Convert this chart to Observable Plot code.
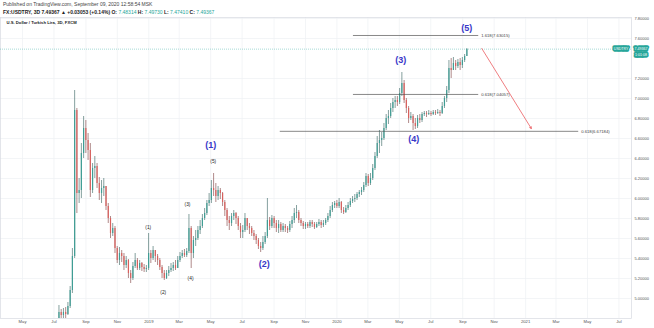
<!DOCTYPE html>
<html><head><meta charset="utf-8">
<script src="https://cdn.jsdelivr.net/npm/d3@7"></script>
<script src="https://cdn.jsdelivr.net/npm/@observablehq/plot@0.6"></script>
<style>
html,body{margin:0;padding:0;background:#fff;}
body{width:654px;height:328px;overflow:hidden;font-family:"Liberation Sans",Arial,sans-serif;}
#hdr{height:17px;position:relative;}
#l1{position:absolute;left:3px;top:1px;font-size:5px;color:#444;white-space:nowrap;}
#l2{position:absolute;left:3px;top:8.5px;font-size:5px;color:#222;white-space:nowrap;font-weight:bold;}
#l2 .v{color:#26a69a;font-weight:normal;}
#chart{position:relative;}
</style></head>
<body>
<div id="hdr">
<div id="l1">Published on TradingView.com, September 09, 2020 12:58:54 MSK</div>
<div id="l2">FX:USDTRY, 3D 7.49367 ▲ +0.03053 (+0.14%) O: <span class="v">7.48314</span> H: <span class="v">7.49730</span> L: <span class="v">7.47410</span> C: <span class="v">7.49367</span></div>
</div>
<div id="chart"></div>
<script>
// ---- data (3-day candles, FX:USDTRY, from 2018-07-02) ----
const firstOpen = 4.58;
const closes = [
4.62,4.72,4.86,4.83,4.86,4.84,4.92,5.08,5.42,6.88,
6.05,6.08,6.45,6.70,6.58,6.48,6.08,6.30,6.32,6.15,
6.05,6.10,6.12,5.92,5.80,5.65,5.70,5.50,5.38,5.45,
5.42,5.33,5.38,5.25,5.20,5.32,5.38,5.30,5.35,5.31,
5.29,5.30,5.45,5.40,5.48,5.42,5.38,5.31,5.25,5.20,
5.25,5.28,5.30,5.33,5.30,5.38,5.42,5.45,5.43,5.47,
5.70,5.45,5.58,5.60,5.68,5.72,5.80,5.85,5.95,5.98,
6.10,6.08,6.02,6.08,6.05,5.96,5.88,5.78,5.75,5.82,
5.85,5.80,5.72,5.66,5.68,5.80,5.72,5.70,5.65,5.62,
5.58,5.52,5.50,5.56,5.62,5.78,5.72,5.80,5.75,5.70,
5.74,5.68,5.72,5.70,5.68,5.74,5.78,5.85,5.86,5.78,
5.75,5.72,5.74,5.72,5.76,5.74,5.71,5.74,5.76,5.73,
5.75,5.78,5.82,5.88,5.93,5.95,5.92,5.96,5.88,5.86,
5.90,5.93,5.97,5.99,6.00,6.04,6.06,6.08,6.13,6.22,
6.15,6.20,6.30,6.42,6.55,6.58,6.60,6.70,6.80,6.82,
6.90,6.96,6.98,6.96,7.05,7.15,6.98,6.90,6.80,6.82,
6.75,6.72,6.80,6.78,6.84,6.85,6.84,6.85,6.84,6.86,
6.85,6.86,6.85,6.92,7.00,7.08,7.30,7.28,7.35,7.32,
7.36,7.33,7.38,7.42,7.49367];
const highs = [
4.66,4.76,4.93,4.89,4.90,4.91,4.96,5.12,5.50,7.08,
6.90,6.20,6.55,6.82,6.78,6.65,6.55,6.35,6.42,6.35,
6.21,6.18,6.20,6.12,5.95,5.82,5.75,5.72,5.52,5.51,
5.48,5.45,5.42,5.39,5.28,5.36,5.45,5.40,5.38,5.36,
5.34,5.33,5.65,5.48,5.52,5.48,5.44,5.40,5.33,5.28,
5.28,5.32,5.35,5.36,5.38,5.42,5.46,5.48,5.49,5.50,
5.84,5.72,5.62,5.68,5.72,5.78,5.84,5.90,5.98,6.05,
6.18,6.25,6.15,6.12,6.10,6.06,5.98,5.90,5.82,5.85,
5.88,5.86,5.82,5.75,5.73,5.85,5.80,5.75,5.72,5.68,
5.64,5.60,5.56,5.62,5.66,6.00,5.81,5.83,5.82,5.78,
5.78,5.76,5.75,5.74,5.72,5.77,5.82,5.90,5.93,5.88,
5.80,5.77,5.76,5.76,5.78,5.78,5.76,5.76,5.79,5.78,
5.78,5.80,5.85,5.92,5.96,5.97,5.98,6.00,5.97,5.91,
5.93,5.96,6.00,6.02,6.04,6.06,6.08,6.11,6.16,6.25,
6.24,6.25,6.34,6.46,6.62,6.68,6.66,6.75,6.84,6.88,
6.95,7.00,7.02,7.02,7.10,7.26,7.18,7.00,6.92,6.86,
6.84,6.80,6.83,6.84,6.86,6.87,6.87,6.88,6.87,6.88,
6.88,6.89,6.88,6.96,7.02,7.12,7.38,7.40,7.41,7.38,
7.39,7.40,7.41,7.44,7.4973];
const lows = [
4.52,4.58,4.70,4.78,4.79,4.80,4.83,4.90,5.05,5.40,
5.85,5.95,6.00,6.40,6.45,6.38,6.01,6.05,6.20,6.10,
5.98,5.95,6.02,5.88,5.75,5.60,5.62,5.45,5.35,5.33,
5.36,5.28,5.30,5.20,5.15,5.18,5.30,5.28,5.28,5.27,
5.26,5.26,5.28,5.35,5.38,5.36,5.33,5.28,5.20,5.18,
5.19,5.22,5.26,5.27,5.28,5.30,5.36,5.40,5.41,5.41,
5.45,5.30,5.40,5.52,5.58,5.64,5.70,5.78,5.83,5.92,
5.95,6.02,5.96,5.98,5.99,5.92,5.82,5.72,5.68,5.72,
5.78,5.74,5.68,5.60,5.60,5.66,5.68,5.64,5.62,5.58,
5.54,5.49,5.46,5.48,5.54,5.60,5.68,5.70,5.70,5.66,
5.65,5.66,5.66,5.66,5.65,5.66,5.70,5.75,5.80,5.75,
5.72,5.69,5.69,5.70,5.70,5.71,5.69,5.70,5.72,5.70,
5.71,5.73,5.76,5.80,5.86,5.90,5.90,5.90,5.85,5.84,
5.85,5.88,5.91,5.95,5.96,5.98,6.01,6.03,6.06,6.11,
6.12,6.13,6.18,6.28,6.40,6.45,6.52,6.58,6.68,6.74,
6.80,6.86,6.90,6.92,6.94,7.02,6.95,6.85,6.75,6.78,
6.68,6.69,6.70,6.75,6.76,6.82,6.81,6.83,6.82,6.83,
6.83,6.84,6.82,6.84,6.90,6.96,7.05,7.20,7.28,7.28,
7.30,7.28,7.30,7.36,7.42];
const candleStart = "2018-07-02";
const candleStepDays = 4.348;   // one 3-trading-day bar

// x axis / y axis ticks
const yTicks = [5.0,5.2,5.4,5.6,5.8,6.0,6.2,6.4,6.6,6.8,7.0,7.2,7.6,7.8];
const monthNames = ["Jan","Feb","Mar","Apr","May","Jun","Jul","Aug","Sep","Oct","Nov","Dec"];

// Fibonacci levels drawn on the chart
const fibLabels = ["1.618(7.63015)","0.618(7.04057)","0.618(6.67184)"];
const fibValues = [7.63015, 7.04057, 6.67184];
const fibStart  = ["2020-02-02","2020-02-02","2019-09-13"];
const fibEnd    = ["2020-10-02","2020-10-02","2021-04-14"];

// Elliott wave labels
const majorLabels = ["(1)","(2)","(3)","(4)","(5)"];
const majorDates  = ["2019-05-01","2019-08-13","2020-05-04","2020-05-29","2020-09-09"];
const majorValues = [6.53, 5.34, 7.38, 6.59, 7.70];
const minorLabels = ["(1)","(2)","(3)","(4)","(5)"];
const minorDates  = ["2018-12-31","2019-01-29","2019-03-17","2019-03-23","2019-05-06"];
const minorValues = [5.71, 5.06, 5.94, 5.20, 6.37];

// projected move arrow
const arrowFrom = {date:"2020-10-08", value:7.50};
const arrowTo   = {date:"2021-01-12", value:6.70};

// ---- build ----
const t0 = Date.parse(candleStart + "T00:00:00Z");
const candles = closes.map((c, i) => {
  const o = i === 0 ? firstOpen : closes[i-1];
  return {date: new Date(t0 + i*candleStepDays*864e5), open:o, close:c,
          high: Math.max(highs[i], o, c), low: Math.min(lows[i], o, c)};
});
const last = closes[closes.length-1];
const D = s => new Date(s + "T00:00:00Z");
const fib = fibValues.map((v,i)=>({v, label:fibLabels[i], x1:D(fibStart[i]), x2:D(fibEnd[i])}));
const major = majorLabels.map((t,i)=>({t, x:D(majorDates[i]), y:majorValues[i]}));
const minor = minorLabels.map((t,i)=>({t, x:D(minorDates[i]), y:minorValues[i]}));
const xDomain = [new Date(Date.UTC(2018,2,19,7)), new Date(Date.UTC(2021,6,25,10))];
const xTicks = d3.utcMonth.every(2).range(new Date(Date.UTC(2018,3,1)), new Date(Date.UTC(2021,7,1)));
const up = "#26a69a", dn = "#ef5350";
const upBody = "#3f9d94", dnBody = "#d9605d";
const upWick = "#33605c", dnWick = "#7a3a3a";

const chart = Plot.plot({
  width: 654, height: 311,
  marginLeft: 0, marginRight: 23, marginTop: 0, marginBottom: 10,
  style: {fontFamily: "'Liberation Sans', Arial, sans-serif", fontSize: "4px", color: "#555", background: "#fff", overflow: "hidden"},
  x: {type: "utc", domain: xDomain, axis: null},
  y: {domain: [4.80, 7.81], axis: null},
  marks: [
    Plot.ruleX(xTicks, {stroke: "#eef0f4", strokeWidth: 0.7}),
    Plot.ruleY(yTicks, {stroke: "#eef0f4", strokeWidth: 0.7}),
    Plot.frame({stroke: "#d8dbe2", strokeWidth: 0.7}),
    Plot.axisX({ticks: xTicks, tickSize: 0, tickPadding: 1.5, fontSize: 4.2, fill: "#555",
      tickFormat: d => d.getUTCMonth() === 0 ? String(d.getUTCFullYear()) : monthNames[d.getUTCMonth()]}),
    Plot.axisY({anchor: "right", ticks: yTicks, tickSize: 0, tickPadding: 3, fontSize: 4, fill: "#555",
      tickFormat: d3.format(".5f"), label: null}),
    Plot.ruleY([last], {stroke: up, strokeOpacity: 0.7, strokeWidth: 0.6, strokeDasharray: "1,1"}),
    Plot.ruleX(candles, {x: "date", y1: "low", y2: "high", stroke: d => d.close >= d.open ? upWick : dnWick, strokeWidth: 0.6, clip: true}),
    Plot.ruleX(candles, {x: "date", y1: "open", y2: "close", stroke: d => d.close >= d.open ? upBody : dnBody, strokeWidth: 1.2, clip: true}),
    Plot.ruleY(fib, {y: "v", x1: "x1", x2: "x2", stroke: "#555", strokeWidth: 0.7}),
    Plot.text(fib, {y: "v", x: "x2", text: "label", textAnchor: "start", dx: 2.5, fontSize: 4.2, fill: "#444"}),
    Plot.arrow([{x1: D(arrowFrom.date), y1: arrowFrom.value, x2: D(arrowTo.date), y2: arrowTo.value}],
      {x1: "x1", y1: "y1", x2: "x2", y2: "y2", stroke: "#e8464a", strokeWidth: 0.7, headLength: 4, bend: 0}),
    Plot.text(minor, {x: "x", y: "y", text: "t", fontSize: 4.8, fill: "#222"}),
    Plot.text(major, {x: "x", y: "y", text: "t", fontSize: 9, fontWeight: "bold", fill: "#3838c8"}),
    Plot.text([last], {y: d => d, frameAnchor: "right", text: () => "USDTRY", textAnchor: "end", dx: -3,
      fontSize: 3.6, fill: "#fff", stroke: up, strokeWidth: 3.4, paintOrder: "stroke", strokeLinejoin: "round"}),
    Plot.text([last], {y: d => d, frameAnchor: "right", text: d => d3.format(".5f")(d), textAnchor: "start", dx: 3,
      fontSize: 3.6, fill: "#fff", stroke: up, strokeWidth: 3.4, paintOrder: "stroke", strokeLinejoin: "round"}),
    Plot.text([last], {y: d => d, frameAnchor: "right", text: () => "1:01:08", textAnchor: "start", dx: 3.5, dy: 6,
      fontSize: 3.6, fill: "#fff", stroke: up, strokeWidth: 3.4, paintOrder: "stroke", strokeLinejoin: "round"}),
    Plot.text(["U.S. Dollar / Turkish Lira, 3D, FXCM"], {frameAnchor: "top-left", text: d => d, dx: 6, dy: 4,
      fontSize: 4.2, fontWeight: "bold", fill: "#222"})
  ]
});
document.getElementById("chart").append(chart);
</script>
</body></html>
